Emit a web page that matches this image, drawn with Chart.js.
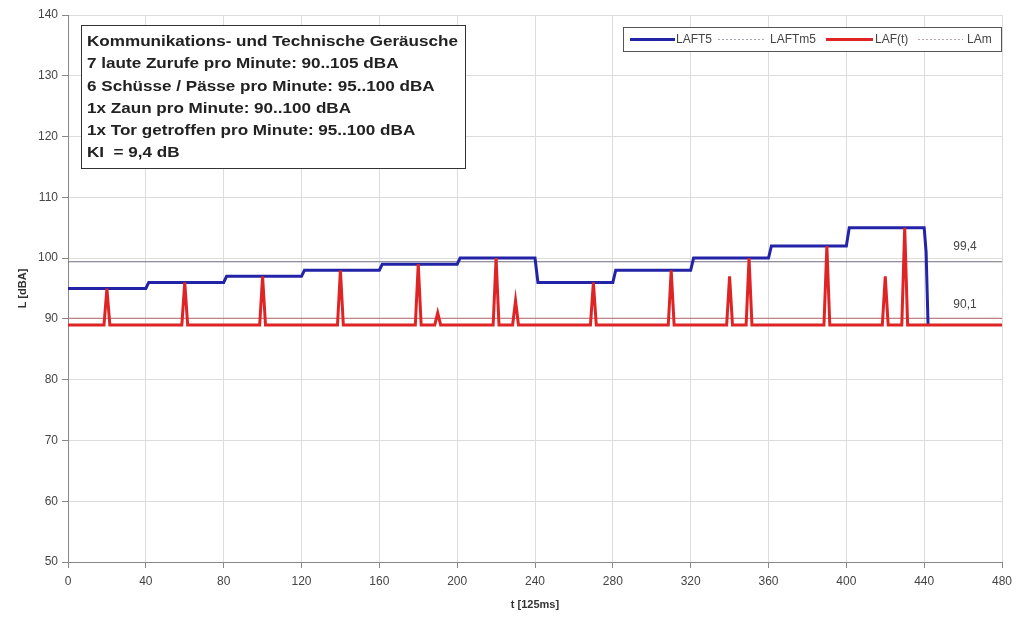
<!DOCTYPE html>
<html>
<head>
<meta charset="utf-8">
<script src="https://cdn.jsdelivr.net/npm/chart.js@4"></script>
<style>
  html, body { margin: 0; padding: 0; background: #fff; }
  #wrap { width: 1017px; height: 621px; }
</style>
</head>
<body>
<div id="wrap"><canvas id="chart"></canvas></div>
<script>
// LAFT5: 5 s maximum level, one level per 40-sample window
const stepStarts = [0, 40, 80, 120, 160, 200, 240, 280, 320, 360, 400];
const stepLevels = [95, 96, 97, 98, 99, 100, 96, 98, 100, 102, 105];
const laft5Tail = [[440, 105], [441, 101], [442, 89]];

// LAF(t): base level plus short events
const lafBase = 89;
const spikeTimes = [20, 60, 100, 140, 180, 190, 220, 230, 270, 310, 340, 350, 390, 420, 430];
const spikePeaks = [95, 96, 97, 98, 99, 91, 100, 93, 96, 98, 97, 100, 102, 97, 105];

const laftm5 = 99.4;
const lam = 90.1;

const legendLabels = ['LAFT5', 'LAFTm5', 'LAF(t)', 'LAm'];
const infoLines = [
  'Kommunikations- und Technische Geräusche',
  '7 laute Zurufe pro Minute: 90..105 dBA',
  '6 Schüsse / Pässe pro Minute: 95..100 dBA',
  '1x Zaun pro Minute: 90..100 dBA',
  '1x Tor getroffen pro Minute: 95..100 dBA',
  'KI  = 9,4 dB'
];

const BLUE = '#2323a8';
const RED = '#de2424';
const GRAY_LINE = '#6e6e80';
const RED_THIN = '#b46a6a';

// build the step line
const laft5Points = [];
stepStarts.forEach((s, i) => {
  const ramp = i === 0 ? 0 : 1.5;
  laft5Points.push({ x: s + ramp, y: stepLevels[i] });
  if (i < stepStarts.length - 1) laft5Points.push({ x: stepStarts[i + 1], y: stepLevels[i] });
});
laft5Tail.forEach(p => laft5Points.push({ x: p[0], y: p[1] }));

// build the spike line
const lafPoints = [{ x: 0, y: lafBase }];
spikeTimes.forEach((t, i) => {
  lafPoints.push({ x: t - 1.5, y: lafBase });
  lafPoints.push({ x: t, y: spikePeaks[i] });
  lafPoints.push({ x: t + 1.5, y: lafBase });
});
lafPoints.push({ x: 480, y: lafBase });

const overlay = {
  id: 'overlay',
  afterDraw(chart) {
    const ctx = chart.ctx;
    const xs = chart.scales.x, ys = chart.scales.y;
    ctx.save();

    // value labels
    ctx.font = '12px "Liberation Sans", Arial, sans-serif';
    ctx.fillStyle = '#444';
    ctx.textAlign = 'center';
    ctx.textBaseline = 'middle';
    ctx.fillText('99,4', xs.getPixelForValue(461), ys.getPixelForValue(laftm5 + 2.4));
    ctx.fillText('90,1', xs.getPixelForValue(461), ys.getPixelForValue(lam + 2.3));

    // info box
    ctx.fillStyle = '#fff';
    ctx.fillRect(81.5, 25.5, 384, 143);
    ctx.strokeStyle = '#333';
    ctx.lineWidth = 1;
    ctx.strokeRect(81.5, 25.5, 384, 143);
    ctx.font = 'bold 15px "Liberation Sans", Arial, sans-serif';
    ctx.fillStyle = '#222';
    ctx.textAlign = 'left';
    const sx = 371 / ctx.measureText(infoLines[0]).width;
    ctx.save();
    ctx.translate(87, 0);
    ctx.scale(sx, 1);
    infoLines.forEach((t, i) => ctx.fillText(t, 0, 42 + i * 22.2));
    ctx.restore();

    // legend
    ctx.fillStyle = '#fff';
    ctx.fillRect(623.5, 27.5, 378, 24);
    ctx.strokeStyle = '#555';
    ctx.strokeRect(623.5, 27.5, 378, 24);
    const ly = 39.5;
    const items = [
      { x0: 630, x1: 675, tx: 676, color: BLUE, w: 3, dash: [] },
      { x0: 718, x1: 766, tx: 770, color: '#a8a8b8', w: 1, dash: [2, 2] },
      { x0: 826, x1: 873, tx: 875, color: RED, w: 3, dash: [] },
      { x0: 918, x1: 963, tx: 967, color: '#b8a8a8', w: 1, dash: [2, 2] }
    ];
    ctx.font = '12px "Liberation Sans", Arial, sans-serif';
    items.forEach((it, i) => {
      ctx.beginPath();
      ctx.setLineDash(it.dash);
      ctx.strokeStyle = it.color;
      ctx.lineWidth = it.w;
      ctx.moveTo(it.x0, ly);
      ctx.lineTo(it.x1, ly);
      ctx.stroke();
      ctx.setLineDash([]);
      ctx.fillStyle = '#444';
      ctx.fillText(legendLabels[i], it.tx, ly);
    });
    ctx.restore();
  }
};

new Chart(document.getElementById('chart'), {
  type: 'line',
  data: {
    datasets: [
      {
        label: legendLabels[2],
        data: lafPoints,
        borderColor: RED,
        borderWidth: 3,
        order: 0
      },
      {
        label: legendLabels[0],
        data: laft5Points,
        borderColor: BLUE,
        borderWidth: 3,
        order: 1
      },
      {
        label: legendLabels[1],
        data: [{ x: 0, y: laftm5 }, { x: 480, y: laftm5 }],
        borderColor: GRAY_LINE,
        borderWidth: 1,
        order: 2
      },
      {
        label: legendLabels[3],
        data: [{ x: 0, y: lam }, { x: 480, y: lam }],
        borderColor: RED_THIN,
        borderWidth: 1,
        order: 3
      }
    ]
  },
  options: {
    responsive: true,
    maintainAspectRatio: false,
    animation: false,
    layout: { padding: { top: 15, right: 0, left: 0, bottom: 0 } },
    elements: {
      point: { radius: 0 },
      line: { tension: 0, borderJoinStyle: 'miter' }
    },
    plugins: {
      legend: { display: false },
      tooltip: { enabled: false }
    },
    scales: {
      x: {
        type: 'linear',
        min: 0,
        max: 480,
        afterFit(scale) { scale.height = 59; scale.paddingRight = 15; },
        ticks: {
          stepSize: 40,
          padding: 6,
          color: '#444',
          font: { family: '"Liberation Sans", Arial, sans-serif', size: 12 }
        },
        grid: { color: '#dcdcdc', tickColor: '#888', tickLength: 6 },
        border: { color: '#888' },
        title: {
          display: true,
          text: 't [125ms]',
          color: '#333',
          padding: { bottom: 9 },
          font: { family: '"Liberation Sans", Arial, sans-serif', size: 11, weight: 'bold' }
        }
      },
      y: {
        min: 50,
        max: 140,
        afterFit(scale) { scale.width = 68; },
        ticks: {
          stepSize: 10,
          padding: 4,
          color: '#444',
          font: { family: '"Liberation Sans", Arial, sans-serif', size: 12 }
        },
        grid: { color: '#dcdcdc', tickColor: '#888', tickLength: 6 },
        border: { color: '#888' },
        title: {
          display: true,
          text: 'L [dBA]',
          color: '#333',
          padding: { top: 16 },
          font: { family: '"Liberation Sans", Arial, sans-serif', size: 11, weight: 'bold' }
        }
      }
    }
  },
  plugins: [overlay]
});
</script>
</body>
</html>
